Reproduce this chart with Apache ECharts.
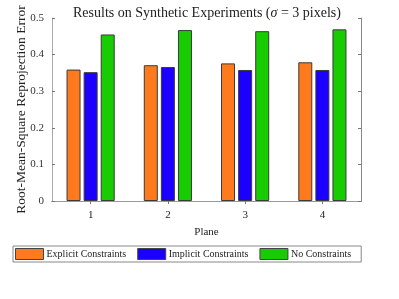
<!DOCTYPE html>
<html><head><meta charset="utf-8">
<script src="https://cdn.jsdelivr.net/npm/echarts@6/dist/echarts.min.js"></script>
<style>html,body{margin:0;padding:0;background:#fff}#c{width:399px;height:299px}</style>
</head><body><div id="c"></div>
<script>
const categories = ['1', '2', '3', '4'];
const explicitVals = [0.359, 0.371, 0.376, 0.379];
const implicitVals = [0.352, 0.366, 0.358, 0.358];
const noVals = [0.455, 0.467, 0.464, 0.469];
const seriesNames = ['Explicit Constraints', 'Implicit Constraints', 'No Constraints'];
const yTicks = [0, 0.1, 0.2, 0.3, 0.4, 0.5];

const F = '"Liberation Serif", "DejaVu Serif", serif';
const colors = ['#ff7a1c', '#1c00ff', '#17cc00'];
const chart = echarts.init(document.getElementById('c'));
const mk = (name, data, i) => ({
  name, type: 'bar', data, barWidth: 14, barGap: '22%',
  xAxisIndex: 0, yAxisIndex: 0,
  itemStyle: { color: colors[i], borderColor: '#3a3a3a', borderWidth: 1 }
});
chart.setOption({
  animation: false,
  textStyle: { fontFamily: F },
  title: {
    text: '{a|Results on Synthetic Experiments (}{i|σ}{a| = 3 pixels)}',
    left: 68, top: 1,
    textStyle: { fontWeight: 'normal', rich: {
      a: { fontFamily: F, fontSize: 14, color: '#222', fontWeight: 'normal' },
      i: { fontFamily: F, fontSize: 14, color: '#222', fontStyle: 'italic', fontWeight: 'normal' }
    } }
  },
  grid: { left: 52, right: 38, top: 18, bottom: 98, outerBoundsMode: 'none', containLabel: false },
  legend: {
    data: seriesNames, left: 13, top: 246, width: 349,
    padding: [2, 10, 2, 2], itemGap: 11, itemWidth: 28, itemHeight: 11,
    borderColor: '#888', borderWidth: 1, borderRadius: 0,
    icon: 'rect',
    textStyle: { fontFamily: F, fontSize: 10, color: '#222', padding: [0, 0, 0, -2] },
    itemStyle: { borderColor: '#444', borderWidth: 1 }
  },
  xAxis: [{
    type: 'category', data: categories, position: 'bottom',
    name: 'Plane', nameLocation: 'middle', nameGap: 26, nameMoveOverlap: false,
    nameTextStyle: { fontFamily: F, fontSize: 11, color: '#222' },
    axisLine: { lineStyle: { color: '#333', width: 1 } },
    axisTick: { show: true, alignWithLabel: true, inside: true, length: 3, lineStyle: { color: '#555' } },
    axisLabel: { fontFamily: F, fontSize: 11, color: '#222', margin: 9 }
  }, {
    type: 'category', data: categories, position: 'top',
    axisLine: { lineStyle: { color: '#999', width: 1 } },
    axisTick: { show: true, alignWithLabel: true, inside: true, length: 3, lineStyle: { color: '#777' } },
    axisLabel: { show: false }
  }],
  yAxis: [{
    type: 'value', min: 0, max: 0.5, interval: 0.1,
    name: 'Root-Mean-Square Reprojection Error', nameLocation: 'middle', nameGap: 24, nameMoveOverlap: false,
    nameTextStyle: { fontFamily: F, fontSize: 13.5, color: '#222' },
    axisLine: { show: true, lineStyle: { color: '#aaa', width: 1 } },
    axisTick: { show: true, inside: true, length: 3, lineStyle: { color: '#777' } },
    splitLine: { show: false },
    axisLabel: { fontFamily: F, fontSize: 11, color: '#333', margin: 8,
      formatter: v => yTicks.includes(+v.toFixed(1)) ? String(+v.toFixed(1)) : '' }
  }, {
    type: 'value', min: 0, max: 0.5, interval: 0.1, position: 'right',
    axisLine: { show: true, lineStyle: { color: '#888', width: 1 } },
    axisTick: { show: true, inside: true, length: 3, lineStyle: { color: '#777' } },
    splitLine: { show: false }, axisLabel: { show: false }
  }],
  series: [mk(seriesNames[0], explicitVals, 0), mk(seriesNames[1], implicitVals, 1), mk(seriesNames[2], noVals, 2)]
});
</script></body></html>
